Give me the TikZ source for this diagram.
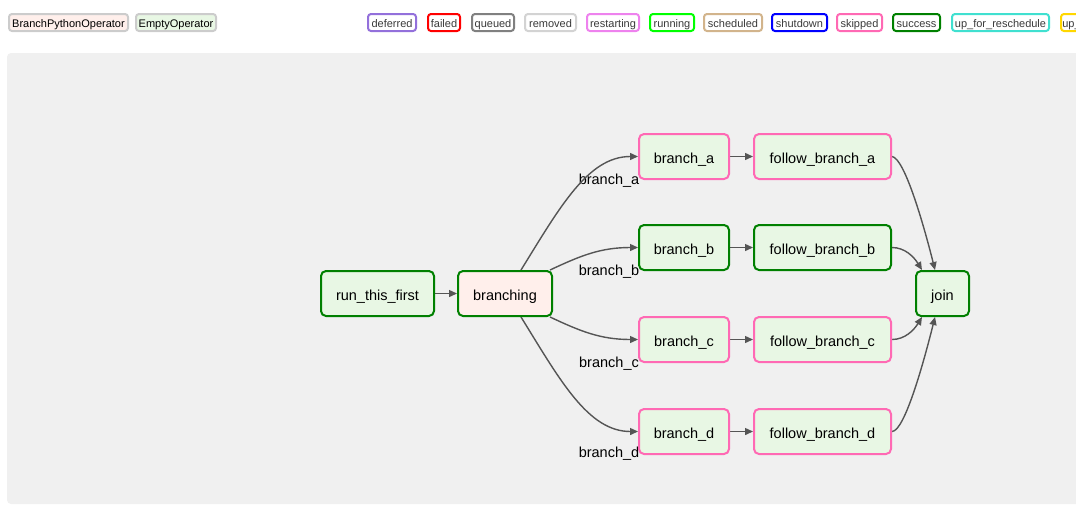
\documentclass[tikz,border=0pt]{standalone}
\usepackage{fontspec}
\setmainfont{Liberation Sans}
\usetikzlibrary{arrows.meta}
\definecolor{bgc}{HTML}{F0F0F0}
\definecolor{emptyop}{HTML}{E8F7E4}
\definecolor{branchop}{HTML}{FFEFEB}
\definecolor{succ}{HTML}{008000}
\definecolor{skip}{HTML}{FF69B4}
\definecolor{edgec}{HTML}{555555}
\definecolor{legtext}{HTML}{3A3A3A}
\definecolor{opborder}{HTML}{CCCCCC}
\definecolor{cdeferred}{HTML}{9370DB}
\definecolor{cfailed}{HTML}{FF0000}
\definecolor{cqueued}{HTML}{808080}
\definecolor{cremoved}{HTML}{D3D3D3}
\definecolor{crestarting}{HTML}{EE82EE}
\definecolor{crunning}{HTML}{00FF00}
\definecolor{cscheduled}{HTML}{D2B48C}
\definecolor{cshutdown}{HTML}{0000FF}
\definecolor{cskipped}{HTML}{FF69B4}
\definecolor{csuccess}{HTML}{008000}
\definecolor{cresched}{HTML}{40E0D0}
\definecolor{cretry}{HTML}{FFD700}
\pgfdeclarelayer{back}
\pgfdeclarelayer{mid}
\pgfsetlayers{back,mid,main}
\begin{document}
\begin{tikzpicture}[x=1pt,y=-1pt,
  task/.style={draw, line width=2pt, rounded corners=5pt, minimum height=45pt,
    inner sep=0pt, text height=13pt, text depth=0pt,
    font=\fontsize{14.5}{17}\selectfont, fill=emptyop},
  okbox/.style={task, draw=succ},
  skipbox/.style={task, draw=skip},
  conn/.style={draw=edgec, line width=1.4pt, -{Triangle[length=8pt,width=7pt]}},
  elabel/.style={font=\fontsize{14.5}{17}\selectfont, inner sep=0pt, anchor=base},
  leg/.style={draw, line width=2pt, rounded corners=3pt, fill=white,
    minimum height=17pt, inner sep=0pt, text height=9.6pt, text depth=0pt,
    font=\fontsize{11}{13}\selectfont, text=legtext},
  oplegend/.style={leg, draw=opborder, text=black}
]
\useasboundingbox (0,0) rectangle (1076,507);
\clip (0,0) rectangle (1076,507);

\begin{pgfonlayer}{back}
\fill[bgc, rounded corners=4pt] (7,53) rectangle (1100,504);
\end{pgfonlayer}

% operator legend
\node[oplegend, fill=branchop, minimum width=119pt] (lbranch) at (68.5,22.5) {BranchPythonOperator};
\node[oplegend, fill=emptyop, minimum width=80pt] (lempty) at (176,22.5) {EmptyOperator};

% state legend
\node[leg, draw=cdeferred, minimum width=48pt] (sdeferred) at (392,22.5) {deferred};
\node[leg, draw=cfailed, minimum width=32pt] (sfailed) at (444,22.5) {failed};
\node[leg, draw=cqueued, minimum width=42pt] (squeued) at (493,22.5) {queued};
\node[leg, draw=cremoved, minimum width=51pt] (sremoved) at (550.5,22.5) {removed};
\node[leg, draw=crestarting, minimum width=52pt] (srestarting) at (613,22.5) {restarting};
\node[leg, draw=crunning, minimum width=44pt] (srunning) at (672,22.5) {running};
\node[leg, draw=cscheduled, minimum width=58pt] (sscheduled) at (733,22.5) {scheduled};
\node[leg, draw=cshutdown, minimum width=55pt] (sshutdown) at (799.5,22.5) {shutdown};
\node[leg, draw=cskipped, minimum width=45pt] (sskipped) at (859.5,22.5) {skipped};
\node[leg, draw=csuccess, minimum width=47pt] (ssuccess) at (916.5,22.5) {success};
\node[leg, draw=cresched, minimum width=97pt] (sresched) at (1000.5,22.5) {up\_for\_reschedule};
\node[leg, draw=cretry, minimum width=62pt, anchor=west] (sretry) at (1060,22.5) {up\_for\_retry};

% tasks
\node[okbox, minimum width=113pt] (run) at (377.5,293.5) {run\_this\_first};
\node[okbox, fill=branchop, minimum width=94pt] (branching) at (505,293.5) {branching};
\node[skipbox, minimum width=90pt] (ba) at (684,156.5) {branch\_a};
\node[okbox, minimum width=90pt] (bb) at (684,247.5) {branch\_b};
\node[skipbox, minimum width=90pt] (bc) at (684,339.5) {branch\_c};
\node[skipbox, minimum width=90pt] (bd) at (684,431.5) {branch\_d};
\node[skipbox, minimum width=137pt] (fa) at (822.5,156.5) {follow\_branch\_a};
\node[okbox, minimum width=137pt] (fb) at (822.5,247.5) {follow\_branch\_b};
\node[skipbox, minimum width=137pt] (fc) at (822.5,339.5) {follow\_branch\_c};
\node[skipbox, minimum width=137pt] (fd) at (822.5,431.5) {follow\_branch\_d};
\node[okbox, minimum width=53pt] (join) at (942.5,293.5) {join};

\begin{pgfonlayer}{mid}
\node[elabel] (la) at (609,184) {branch\_a};
\node[elabel] (lb) at (609,275) {branch\_b};
\node[elabel] (lc) at (609,367) {branch\_c};
\node[elabel] (ld) at (609,457.5) {branch\_d};

\draw[conn] (run.east) -- (branching.west);
\draw[conn] ([xshift=16pt]branching.north) .. controls (560,207) and (588,156.5) .. (ba.west);
\draw[conn] ([xshift=-3pt]branching.north east) .. controls (580,256) and (600,247.5) .. (bb.west);
\draw[conn] ([xshift=-3pt]branching.south east) .. controls (580,331) and (600,339.5) .. (bc.west);
\draw[conn] ([xshift=16pt]branching.south) .. controls (560,380) and (588,431.5) .. (bd.west);
\draw[conn] (ba.east) -- (fa.west);
\draw[conn] (bb.east) -- (fb.west);
\draw[conn] (bc.east) -- (fc.west);
\draw[conn] (bd.east) -- (fd.west);
\draw[conn] (fa.east) .. controls (905,158) and (925,230) .. ([xshift=-7.5pt]join.north);
\draw[conn] (fb.east) .. controls (905,247.5) and (914,257) .. ([xshift=-20.5pt]join.north);
\draw[conn] (fc.east) .. controls (905,339.5) and (914,330) .. ([xshift=-20.5pt]join.south);
\draw[conn] (fd.east) .. controls (905,431.5) and (925,357) .. ([xshift=-7.5pt]join.south);
\end{pgfonlayer}
\end{tikzpicture}
\end{document}
